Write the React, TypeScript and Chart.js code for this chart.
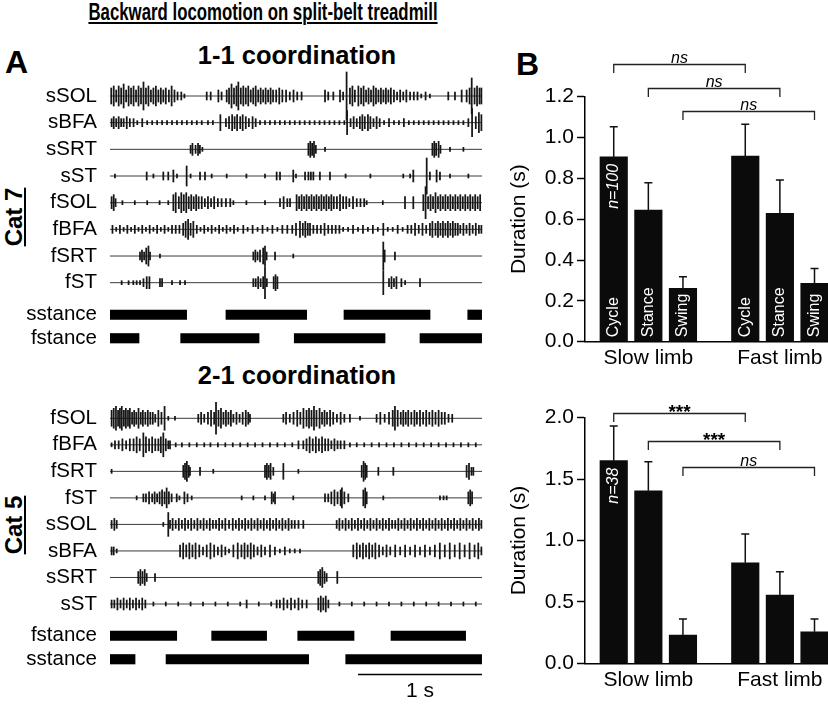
import React, { useEffect, useRef } from 'react';
import { Chart, registerables } from 'chart.js';

Chart.register(...registerables);

const FONT = "'Liberation Sans', Arial, Helvetica, sans-serif";

// ---------------- Panel A data: time in ms, spikes as [time, amplitude] ----------------
const timeRangeMs = [0, 3000];
const scaleBarMs = [2000, 3000];
const scaleBarLabel = '1 s';

// 1-1 coordination (Cat 7)
const topChannels = ['sSOL', 'sBFA', 'sSRT', 'sST', 'fSOL', 'fBFA', 'fSRT', 'fST'];
const top_sSOL = [[10,4],[30,5],[50,3],[70,5],[90,4],[110,6],[130,3],[150,5],[170,4],[190,5],[210,3],[230,5],[250,4],[270,7],[290,4],[310,5],[330,3],[350,4],[370,5],[390,3],[410,4],[430,3],[450,4],[475,3],[497,5],[520,3],[545,2],[575,2],[600,1],
  [780,2],[812,2],[874,3],[900,2],[941,3],[960,4],[980,6],[1000,4],[1020,5],[1035,7],[1055,4],[1075,5],[1095,4],[1115,5],[1135,3],[1155,4],[1175,5],[1195,3],[1215,4],[1235,3],[1255,4],[1275,3],[1295,4],[1315,3],[1340,3],[1365,4],[1390,3],[1420,3],[1450,2],[1480,3],[1510,2],[1545,2],
  [1734,3],[1760,2],[1801,2],[1855,3],[1880,2],[1908,12],[1935,4],[1955,5],[1975,3],[2003,5],[2025,4],[2045,5],[2065,3],[2085,4],[2105,3],[2125,5],[2145,4],[2165,3],[2185,4],[2205,3],[2225,4],[2245,3],[2265,4],[2290,3],[2315,2],[2340,3],[2365,2],[2390,3],[2420,2],[2450,2],[2480,2],[2510,1],[2545,2],[2580,1],
  [2728,2],[2782,2],[2836,3],[2876,3],[2900,4],[2917,9],[2940,4],[2960,5],[2980,4],[2995,4]];
const top_sBFA = [[13,2],[30,3],[50,2],[70,3],[90,2],[110,2],[135,3],[160,2],[190,2],[220,1],[260,2],[300,1],[340,1],[380,1],[420,1],[460,1],[500,1],[540,1],[580,1],[620,1],[660,1],[700,1],[740,1],[790,1],[830,1],[890,4],[935,2],[960,3],[985,4],[1005,3],[1025,4],[1050,3],[1070,4],[1095,3],[1120,2],[1150,3],[1175,2],[1210,1],[1250,1],[1290,1],[1330,1],[1370,1],[1410,1],[1450,1],[1490,1],[1530,1],[1570,1],[1610,1],[1650,1],[1690,1],[1730,1],[1770,1],[1810,1],[1850,1],[1890,1],[1912,6],[1940,2],[1965,3],[1990,2],[2015,3],[2035,4],[2055,3],[2080,4],[2100,3],[2125,2],[2150,3],[2175,2],[2210,1],[2250,2],[2290,1],[2330,1],[2370,2],[2410,1],[2450,1],[2490,1],[2530,1],[2570,1],[2610,1],[2650,1],[2690,1],[2730,1],[2770,1],[2810,1],[2850,1],[2890,2],[2920,7],[2950,3],[2975,5],[2995,4]];
const top_sSRT = [[650,2],[665,3],[690,2],[710,3],[725,2],[745,1],[1600,3],[1615,4],[1630,3],[1645,4],[1660,2],[1734,1],[2600,3],[2615,4],[2630,3],[2650,4],[2665,2],[2742,1],[2850,1]];
const top_sST = [[40,1],[296,2],[350,1],[430,2],[470,2],[511,3],[540,1],[618,5],[650,1],[726,2],[766,2],[820,1],[941,1],[1100,1],[1250,1],[1344,2],[1371,2],[1478,3],[1500,1],[1573,2],[1600,2],[1620,2],[1640,2],[1693,2],[1774,2],[1900,1],[2100,1],[2365,1],[2420,1],[2446,3],[2554,9],[2580,2],[2634,3],[2661,2],[2742,1],[2890,1]];
const top_fSOL = [[13,3],[30,4],[45,2],[100,1],[200,1],[300,1],[400,1],[470,1],[511,4],[530,5],[555,3],[575,5],[595,4],[615,5],[635,3],[655,4],[675,3],[695,4],[715,3],[740,3],[765,2],[790,3],[815,2],[840,3],[870,2],[900,2],[935,2],[970,2],[995,1],[1100,1],[1250,1],[1371,2],[1400,3],[1430,2],[1452,2],[1505,4],[1525,3],[1545,4],[1565,3],[1585,4],[1605,3],[1625,4],[1645,3],[1665,4],[1685,3],[1705,4],[1725,3],[1745,4],[1765,3],[1785,4],[1805,3],[1830,3],[1855,4],[1880,3],[1905,3],[1930,2],[1960,3],[1990,2],[2020,2],[2050,2],[2070,1],[2200,1],[2379,3],[2446,3],[2527,4],[2545,8],[2565,3],[2585,4],[2605,3],[2625,5],[2645,3],[2665,4],[2685,3],[2705,4],[2725,3],[2745,4],[2765,3],[2785,4],[2805,3],[2825,4],[2845,3],[2865,4],[2885,3],[2905,4],[2925,3],[2945,4],[2965,3],[2985,4]];
const top_fBFA = [[20,2],[50,1],[80,2],[110,1],[140,2],[170,1],[200,2],[230,1],[260,2],[290,1],[320,2],[350,1],[380,2],[410,1],[440,2],[470,1],[500,2],[530,2],[560,2],[590,3],[610,4],[630,5],[650,3],[672,4],[700,2],[730,1],[760,2],[790,1],[820,2],[850,1],[880,2],[910,1],[940,2],[970,1],[1000,2],[1030,1],[1075,2],[1110,1],[1150,2],[1190,1],[1230,2],[1270,1],[1310,2],[1350,1],[1390,2],[1430,2],[1470,2],[1500,3],[1532,4],[1555,3],[1575,4],[1595,3],[1613,3],[1640,2],[1670,2],[1700,2],[1730,3],[1760,2],[1790,2],[1820,2],[1850,2],[1880,1],[1920,1],[1960,2],[2000,1],[2040,2],[2080,1],[2120,2],[2160,1],[2204,3],[2240,1],[2280,1],[2320,2],[2360,1],[2400,2],[2430,2],[2460,3],[2490,2],[2520,3],[2550,2],[2580,3],[2600,4],[2625,3],[2645,4],[2665,3],[2685,4],[2705,3],[2725,4],[2745,3],[2765,4],[2785,3],[2805,3],[2825,2],[2850,3],[2875,2],[2900,3],[2925,2],[2950,3],[2975,2],[2995,2]];
const top_fSRT = [[242,2],[258,3],[275,2],[292,4],[310,5],[323,2],[403,1],[1156,2],[1172,3],[1190,2],[1210,3],[1235,4],[1250,5],[1263,2],[1331,2],[1478,1],[2204,7],[2215,3],[2298,2]];
const top_fST = [[94,1],[150,1],[188,1],[215,1],[242,1],[270,2],[296,3],[318,3],[403,2],[420,2],[500,1],[565,1],[605,1],[1156,2],[1175,2],[1195,3],[1215,2],[1235,3],[1250,8],[1265,2],[1320,3],[1335,4],[1350,3],[2204,6],[2250,2],[2270,3],[2290,2],[2310,3],[2350,2],[2380,1],[2500,2]];
const topSpikes = [top_sSOL, top_sBFA, top_sSRT, top_sST, top_fSOL, top_fBFA, top_fSRT, top_fST];
const topStanceRows = ['sstance', 'fstance'];
const top_sstance = [[0,618],[935,1586],[1887,2581],[2885,2997]];
const top_fstance = [[0,234],[570,1202],[1486,2218],[2500,2997]];

// 2-1 coordination (Cat 5)
const botChannels = ['fSOL', 'fBFA', 'fSRT', 'fST', 'sSOL', 'sBFA', 'sSRT', 'sST'];
const bot_fSOL = [[13,4],[30,5],[48,6],[65,4],[80,5],[95,6],[112,4],[128,5],[145,4],[160,5],[178,3],[195,4],[212,3],[230,5],[248,3],[265,4],[285,3],[305,4],[325,3],[345,3],[365,2],[390,4],[415,3],[440,6],[470,1],[524,1],[712,2],[735,3],[760,2],[790,3],[815,4],[840,3],[855,8],[875,4],[895,5],[915,3],[935,4],[955,3],[975,4],[995,2],[1020,3],[1045,2],[1070,3],[1095,4],[1115,3],[1129,2],[1398,2],[1420,3],[1450,2],[1480,3],[1510,4],[1535,3],[1560,5],[1585,4],[1605,5],[1625,4],[1645,6],[1665,4],[1690,5],[1710,3],[1730,4],[1750,3],[1775,4],[1800,3],[1830,2],[1860,3],[1890,2],[1935,2],[2016,1],[2150,2],[2180,3],[2215,2],[2250,3],[2280,4],[2298,6],[2320,4],[2345,3],[2365,4],[2385,3],[2405,4],[2430,3],[2455,4],[2475,3],[2500,4],[2525,3],[2550,4],[2575,3],[2600,4],[2625,3],[2650,4],[2675,3],[2700,3],[2730,2],[2760,2]];
const bot_fBFA = [[13,1],[40,2],[70,2],[100,3],[130,2],[160,3],[190,3],[215,4],[240,3],[269,6],[290,4],[315,3],[340,4],[365,3],[390,3],[410,4],[430,6],[450,3],[470,2],[484,2],[530,1],[580,1],[640,1],[700,1],[760,1],[810,1],[870,1],[930,1],[990,1],[1050,1],[1110,1],[1170,1],[1230,1],[1290,1],[1350,1],[1410,1],[1470,1],[1520,2],[1559,2],[1585,3],[1610,4],[1635,3],[1660,4],[1685,3],[1710,4],[1735,3],[1760,3],[1785,2],[1810,3],[1835,2],[1860,2],[1890,2],[1935,1],[1990,1],[2050,1],[2110,1],[2170,1],[2230,1],[2290,1],[2350,1],[2410,1],[2470,1],[2530,1],[2590,1],[2650,1],[2710,1],[2770,1],[2830,1],[2890,1],[2950,1]];
const bot_fSRT = [[13,1],[591,3],[605,4],[620,5],[635,3],[645,2],[726,2],[833,1],[1250,3],[1265,4],[1280,3],[1295,4],[1317,2],[1398,4],[1519,1],[2030,3],[2045,5],[2058,4],[2070,3],[2164,2],[2285,2],[2876,3],[2895,4],[2915,2],[2930,2]];
const bot_fST = [[215,1],[269,2],[290,2],[315,3],[340,2],[360,3],[380,2],[400,3],[420,4],[440,3],[457,5],[475,3],[497,2],[538,2],[560,1],[600,3],[625,2],[659,1],[1062,1],[1156,1],[1250,1],[1304,3],[1318,2],[1331,3],[1478,1],[1734,2],[1760,2],[1785,3],[1810,4],[1835,3],[1860,4],[1870,5],[1890,3],[1922,2],[2043,4],[2058,5],[2070,3],[2204,1],[2661,1],[2690,1],[2715,1],[2890,3],[2905,4],[2920,3]];
const bot_sSOL = [[13,2],[35,3],[54,2],[430,1],[470,6],[484,2],[505,3],[530,2],[555,3],[580,2],[605,3],[630,2],[655,3],[680,2],[705,3],[730,2],[755,3],[780,2],[805,3],[830,2],[855,2],[880,3],[905,2],[930,3],[960,2],[990,3],[1015,2],[1040,3],[1065,2],[1090,3],[1115,2],[1140,3],[1165,2],[1190,3],[1215,2],[1240,3],[1265,2],[1290,3],[1315,2],[1340,3],[1365,2],[1390,3],[1415,2],[1440,3],[1465,2],[1490,2],[1520,2],[1559,2],[1828,2],[1850,3],[1875,2],[1900,3],[1925,2],[1950,3],[1975,2],[2000,3],[2025,2],[2050,3],[2075,2],[2100,3],[2125,2],[2150,3],[2175,2],[2200,3],[2225,2],[2250,3],[2275,2],[2300,2],[2325,3],[2350,2],[2375,3],[2400,2],[2425,3],[2450,2],[2475,3],[2500,2],[2525,3],[2550,2],[2575,3],[2600,2],[2625,3],[2650,2],[2675,3],[2700,2],[2725,3],[2750,2],[2775,3],[2800,2],[2825,3],[2850,2],[2875,3],[2900,2],[2925,3],[2950,2],[2975,3],[2995,2]];
const bot_sBFA = [[13,2],[30,2],[54,1],[565,3],[590,4],[615,3],[640,4],[665,3],[690,4],[720,3],[750,2],[780,3],[810,4],[840,3],[870,2],[900,3],[930,2],[960,1],[995,3],[1030,4],[1060,3],[1085,4],[1110,3],[1135,4],[1160,3],[1190,2],[1220,3],[1250,2],[1290,3],[1330,2],[1370,1],[1410,2],[1450,1],[1490,1],[1532,1],[1962,3],[1990,4],[2015,3],[2040,4],[2065,3],[2090,4],[2115,3],[2140,4],[2170,3],[2200,2],[2230,3],[2260,2],[2300,3],[2340,2],[2380,3],[2420,2],[2460,3],[2500,2],[2540,3],[2580,2],[2620,3],[2660,4],[2700,3],[2740,4],[2780,3],[2820,4],[2860,3],[2900,4],[2940,3],[2970,4],[2995,2]];
const bot_sSRT = [[228,3],[245,4],[262,3],[280,4],[296,2],[363,2],[1680,3],[1695,4],[1712,5],[1730,3],[1747,2],[1833,3]];
const bot_sST = [[13,2],[35,2],[60,3],[85,2],[110,3],[135,2],[160,3],[185,2],[210,3],[235,2],[260,3],[285,2],[350,1],[450,1],[550,1],[650,1],[750,1],[850,1],[950,1],[1050,1],[1102,2],[1200,1],[1300,1],[1344,2],[1370,2],[1400,3],[1430,2],[1460,3],[1490,2],[1520,3],[1550,2],[1586,2],[1680,3],[1700,4],[1720,3],[1740,4],[1761,2],[1850,1],[1950,1],[2050,1],[2150,1],[2250,1],[2350,1],[2450,1],[2550,1],[2650,1],[2750,1],[2850,1],[2950,1]];
const botSpikes = [bot_fSOL, bot_fBFA, bot_fSRT, bot_fST, bot_sSOL, bot_sBFA, bot_sSRT, bot_sST];
const botStanceRows = ['fstance', 'sstance'];
const bot_fstance = [[0,538],[820,1263],[1514,1968],[2266,2868]];
const bot_sstance = [[0,202],[452,1602],[1901,2997]];

// ---------------- Panel B data ----------------
const limbGroups = ['Slow limb', 'Fast limb'];
const phaseNames = ['Cycle', 'Stance', 'Swing'];
const oneToOneMean = [0.905, 0.645, 0.261, 0.909, 0.629, 0.286];
const oneToOneErr = [0.148, 0.134, 0.057, 0.156, 0.163, 0.073];
const oneToOneN = 'n=100';
const oneToOneSig: [string, number, number, number][] = [['ns', 0, 3, 1.358], ['ns', 1, 4, 1.241], ['ns', 2, 5, 1.13]];
const twoToOneMean = [1.65, 1.405, 0.23, 0.819, 0.556, 0.257];
const twoToOneErr = [0.282, 0.237, 0.131, 0.234, 0.19, 0.104];
const twoToOneN = 'n=38';
const twoToOneSig: [string, number, number, number][] = [['***', 0, 3, 2.036], ['***', 1, 4, 1.813], ['ns', 2, 5, 1.596]];

// layout positions on the bar chart x axis
const BAR_POS = [1, 2, 3, 4.8, 5.8, 6.8];
const GROUP_TICK_POS = [2, 5.8];

const ROW = 10;      // trace spacing in y units
const GAIN = 0.75;   // display gain of the EMG traces

const labelFont = { family: FONT, size: 20.5, lineHeight: 0.2 };

function traceConfig(names: string[], spikes: number[][][], yMin: number, yMax: number) {
  const datasets: any[] = [];
  names.forEach((_, i) => {
    const base = -ROW * i;
    datasets.push({
      type: 'line',
      data: [{ x: timeRangeMs[0], y: base }, { x: timeRangeMs[1], y: base }],
      borderColor: '#3a3a3a', borderWidth: 1, pointRadius: 0, order: 2, clip: false,
    });
    datasets.push({
      type: 'bar',
      data: spikes[i].map(([t, a]) => ({ x: t, y: [base - a * GAIN, base + a * GAIN] })),
      backgroundColor: '#161616', barThickness: 1.1, grouped: false, order: 1, clip: false,
    });
  });
  return {
    type: 'bar',
    data: { datasets },
    options: {
      animation: false, responsive: false, events: [],
      layout: { padding: { left: 0, right: 2, top: 0, bottom: 0 } },
      plugins: { legend: { display: false }, tooltip: { enabled: false } },
      scales: {
        x: { type: 'linear', min: timeRangeMs[0], max: timeRangeMs[1], display: false, offset: false },
        y: {
          type: 'linear', min: yMin, max: yMax,
          afterBuildTicks: (s: any) => { s.ticks = names.map((_, i) => ({ value: -ROW * i })); },
          afterFit: (s: any) => { s.width = 110; s.paddingTop = 0; s.paddingBottom = 0; },
          grid: { display: false }, border: { display: false },
          ticks: { autoSkip: false, padding: 5, color: '#000', font: labelFont, callback: (_v: any, i: number) => names[i] },
        },
      },
    },
  };
}

const scaleBarPlugin = {
  id: 'scalebar',
  afterDraw(chart: any) {
    const { ctx, scales: { x }, chartArea } = chart;
    const x1 = x.getPixelForValue(scaleBarMs[0]);
    const x2 = x.getPixelForValue(scaleBarMs[1]);
    const y = chartArea.bottom + 3.5;
    ctx.save();
    ctx.strokeStyle = '#000'; ctx.lineWidth = 1.5;
    ctx.beginPath(); ctx.moveTo(x1, y); ctx.lineTo(x2, y); ctx.stroke();
    ctx.fillStyle = '#000'; ctx.font = `21px ${FONT}`; ctx.textAlign = 'center'; ctx.textBaseline = 'alphabetic';
    ctx.fillText(scaleBarLabel, (x1 + x2) / 2, y + 22.4);
    ctx.restore();
  },
};

function stanceConfig(rows: string[], intervals: number[][][], padTop: number, padBottom: number, withScaleBar: boolean) {
  const data: any[] = [];
  rows.forEach((r, i) => intervals[i].forEach(([s, e]) => data.push({ y: r, x: [s, e] })));
  return {
    type: 'bar',
    data: { labels: rows, datasets: [{ data, backgroundColor: '#000', barThickness: 9.5, grouped: false }] },
    options: {
      indexAxis: 'y', animation: false, responsive: false, events: [],
      layout: { padding: { left: 0, right: 2, top: padTop, bottom: padBottom } },
      plugins: { legend: { display: false }, tooltip: { enabled: false } },
      scales: {
        x: { type: 'linear', min: timeRangeMs[0], max: timeRangeMs[1], display: false },
        y: {
          type: 'category', offset: true, grid: { display: false }, border: { display: false },
          afterFit: (s: any) => { s.width = 110; s.paddingTop = 0; s.paddingBottom = 0; },
          ticks: { autoSkip: false, padding: 5, color: '#000', font: labelFont },
        },
      },
    },
    plugins: withScaleBar ? [scaleBarPlugin] : [],
  };
}

function barAnnotations(means: number[], errs: number[], sig: [string, number, number, number][], nLabel: string, showPhase: boolean) {
  return {
    id: 'annot',
    afterDatasetsDraw(chart: any) {
      const { ctx, scales: { y } } = chart;
      const bars = chart.getDatasetMeta(0).data;
      ctx.save();
      ctx.strokeStyle = '#111'; ctx.lineWidth = 1.5;
      bars.forEach((b: any, i: number) => {
        const yTop = y.getPixelForValue(means[i] + errs[i]);
        ctx.beginPath();
        ctx.moveTo(b.x, b.y); ctx.lineTo(b.x, yTop);
        ctx.moveTo(b.x - 4, yTop); ctx.lineTo(b.x + 4, yTop);
        ctx.stroke();
      });
      ctx.fillStyle = '#fff';
      const y0 = y.getPixelForValue(0);
      if (showPhase) {
        bars.forEach((b: any, i: number) => {
          ctx.save();
          ctx.translate(b.x, y0 - 4.5); ctx.rotate(-Math.PI / 2);
          ctx.font = `16px ${FONT}`; ctx.textAlign = 'left'; ctx.textBaseline = 'middle';
          ctx.fillText(phaseNames[i % 3], 0, 0);
          ctx.restore();
        });
      }
      const b0 = bars[0];
      ctx.save();
      ctx.translate(b0.x, b0.y + 7); ctx.rotate(-Math.PI / 2);
      ctx.font = `italic 16px ${FONT}`; ctx.textAlign = 'right'; ctx.textBaseline = 'middle';
      ctx.fillText(nLabel, 0, 0);
      ctx.restore();
      ctx.strokeStyle = '#222'; ctx.lineWidth = 1.3; ctx.fillStyle = '#000';
      sig.forEach(([label, from, to, level]) => {
        const x1 = bars[from].x, x2 = bars[to].x;
        const yy = Math.round(y.getPixelForValue(level)) + 0.5;
        ctx.beginPath();
        ctx.moveTo(x1, yy + 8.4); ctx.lineTo(x1, yy); ctx.lineTo(x2, yy); ctx.lineTo(x2, yy + 8.4);
        ctx.stroke();
        ctx.font = label === 'ns' ? `italic 16px ${FONT}` : `bold 19px ${FONT}`;
        ctx.textAlign = 'center'; ctx.textBaseline = 'alphabetic';
        const m = ctx.measureText(label);
        ctx.fillText(label, (x1 + x2) / 2, yy - 1.5 - m.actualBoundingBoxDescent);
      });
      ctx.restore();
    },
  };
}

function barConfig(means: number[], errs: number[], yMax: number, step: number, padTop: number, xHeight: number,
  sig: [string, number, number, number][], nLabel: string, showPhase: boolean) {
  return {
    type: 'bar',
    data: { datasets: [{ data: BAR_POS.map((x, i) => ({ x, y: means[i] })), backgroundColor: '#0b0b0b', barThickness: 27.5 }] },
    options: {
      animation: false, responsive: false, events: [],
      layout: { padding: { top: padTop, left: 0, right: 0, bottom: 0 } },
      plugins: { legend: { display: false }, tooltip: { enabled: false } },
      scales: {
        x: {
          type: 'linear', min: 0.17, max: 7.19, offset: false,
          afterBuildTicks: (s: any) => { s.ticks = GROUP_TICK_POS.map((v) => ({ value: v })); },
          afterFit: (s: any) => { s.height = xHeight; },
          grid: { display: true, drawOnChartArea: false, drawTicks: false },
          border: { display: true, color: '#000', width: 1.5 },
          ticks: { autoSkip: false, maxRotation: 0, padding: 4, color: '#000', font: { family: FONT, size: 21 }, callback: (_v: any, i: number) => limbGroups[i] },
        },
        y: {
          type: 'linear', min: 0, max: yMax,
          afterFit: (s: any) => { s.width = 85; },
          grid: { display: true, drawOnChartArea: false, drawTicks: true, tickLength: 8, tickColor: '#000', tickWidth: 1.5 },
          border: { display: true, color: '#000', width: 1.5 },
          ticks: { stepSize: step, padding: 3, color: '#000', font: { family: FONT, size: 21 }, callback: (v: any) => Number(v).toFixed(1) },
          title: { display: true, text: 'Duration (s)', color: '#000', font: { family: FONT, size: 21 }, padding: { top: 7, bottom: 0 } },
        },
      },
    },
    plugins: [barAnnotations(means, errs, sig, nLabel, showPhase)],
  };
}

function ChartBox({ left, top, width, height, make }: { left: number; top: number; width: number; height: number; make: () => any }) {
  const ref = useRef<HTMLCanvasElement>(null);
  useEffect(() => {
    const chart = new Chart(ref.current as HTMLCanvasElement, make());
    return () => chart.destroy();
  }, []);
  return <canvas ref={ref} width={width} height={height} style={{ position: 'absolute', left, top, width, height }} />;
}

function Label({ text, x, baseline, size, bold = false, center = true, scaleX = 1, underline = false }:
  { text: string; x: number; baseline: number; size: number; bold?: boolean; center?: boolean; scaleX?: number; underline?: boolean }) {
  const top = baseline - 0.8465 * size;
  const transform = center ? `translateX(-50%) scaleX(${scaleX})` : undefined;
  return (
    <div style={{
      position: 'absolute', left: x, top, fontFamily: FONT, fontSize: size, lineHeight: `${size}px`,
      fontWeight: bold ? 'bold' : 'normal', whiteSpace: 'nowrap', color: '#000',
      textDecoration: underline ? 'underline' : 'none', transform,
    }}>{text}</div>
  );
}

function VLabel({ text, cx, cy, size }: { text: string; cx: number; cy: number; size: number }) {
  return (
    <div style={{
      position: 'absolute', left: cx, top: cy, transform: 'translate(-50%,-50%) rotate(-90deg)',
      fontFamily: FONT, fontSize: size, lineHeight: `${size}px`, fontWeight: 'bold', whiteSpace: 'nowrap',
      textDecoration: 'underline', color: '#000',
    }}>{text}</div>
  );
}

function traceRange(top: number, height: number, base0: number, rowPx: number) {
  const unit = rowPx / ROW;
  return { yMax: (base0 - top) / unit, yMin: -(top + height - base0) / unit };
}

export default function App() {
  const tr1 = traceRange(58, 244, 96, 26.67);
  const tr2 = traceRange(392, 224, 418.3, 26.53);
  return (
    <div style={{ position: 'absolute', left: 0, top: 0, width: 828, height: 704, background: '#fff', overflow: 'hidden' }}>
      <Label text="Backward locomotion on split-belt treadmill" x={262.5} baseline={20.7} size={23.5} bold scaleX={0.715} underline />
      <Label text="A" x={5} baseline={73} size={32} bold center={false} />
      <Label text="B" x={516} baseline={75} size={32} bold center={false} />
      <Label text="1-1 coordination" x={297} baseline={65} size={25.5} bold />
      <Label text="2-1 coordination" x={297} baseline={385} size={25.5} bold />
      <VLabel text="Cat 7" cx={13.6} cy={217} size={24} />
      <VLabel text="Cat 5" cx={13.6} cy={524.5} size={24} />

      <ChartBox left={0} top={58} width={484} height={244} make={() => traceConfig(topChannels, topSpikes, tr1.yMin, tr1.yMax)} />
      <ChartBox left={0} top={288} width={484} height={77} make={() => stanceConfig(topStanceRows, [top_sstance, top_fstance], 15, 15, false)} />
      <ChartBox left={0} top={392} width={484} height={224} make={() => traceConfig(botChannels, botSpikes, tr2.yMin, tr2.yMax)} />
      <ChartBox left={0} top={609} width={484} height={95} make={() => stanceConfig(botStanceRows, [bot_fstance, bot_sstance], 15, 33, true)} />

      <ChartBox left={500} top={40} width={328} height={338}
        make={() => barConfig(oneToOneMean, oneToOneErr, 1.2, 0.2, 56.7, 36.3, oneToOneSig, oneToOneN, true)} />
      <ChartBox left={500} top={380} width={328} height={320}
        make={() => barConfig(twoToOneMean, twoToOneErr, 2.0, 0.5, 37.7, 36.7, twoToOneSig, twoToOneN, false)} />
    </div>
  );
}
